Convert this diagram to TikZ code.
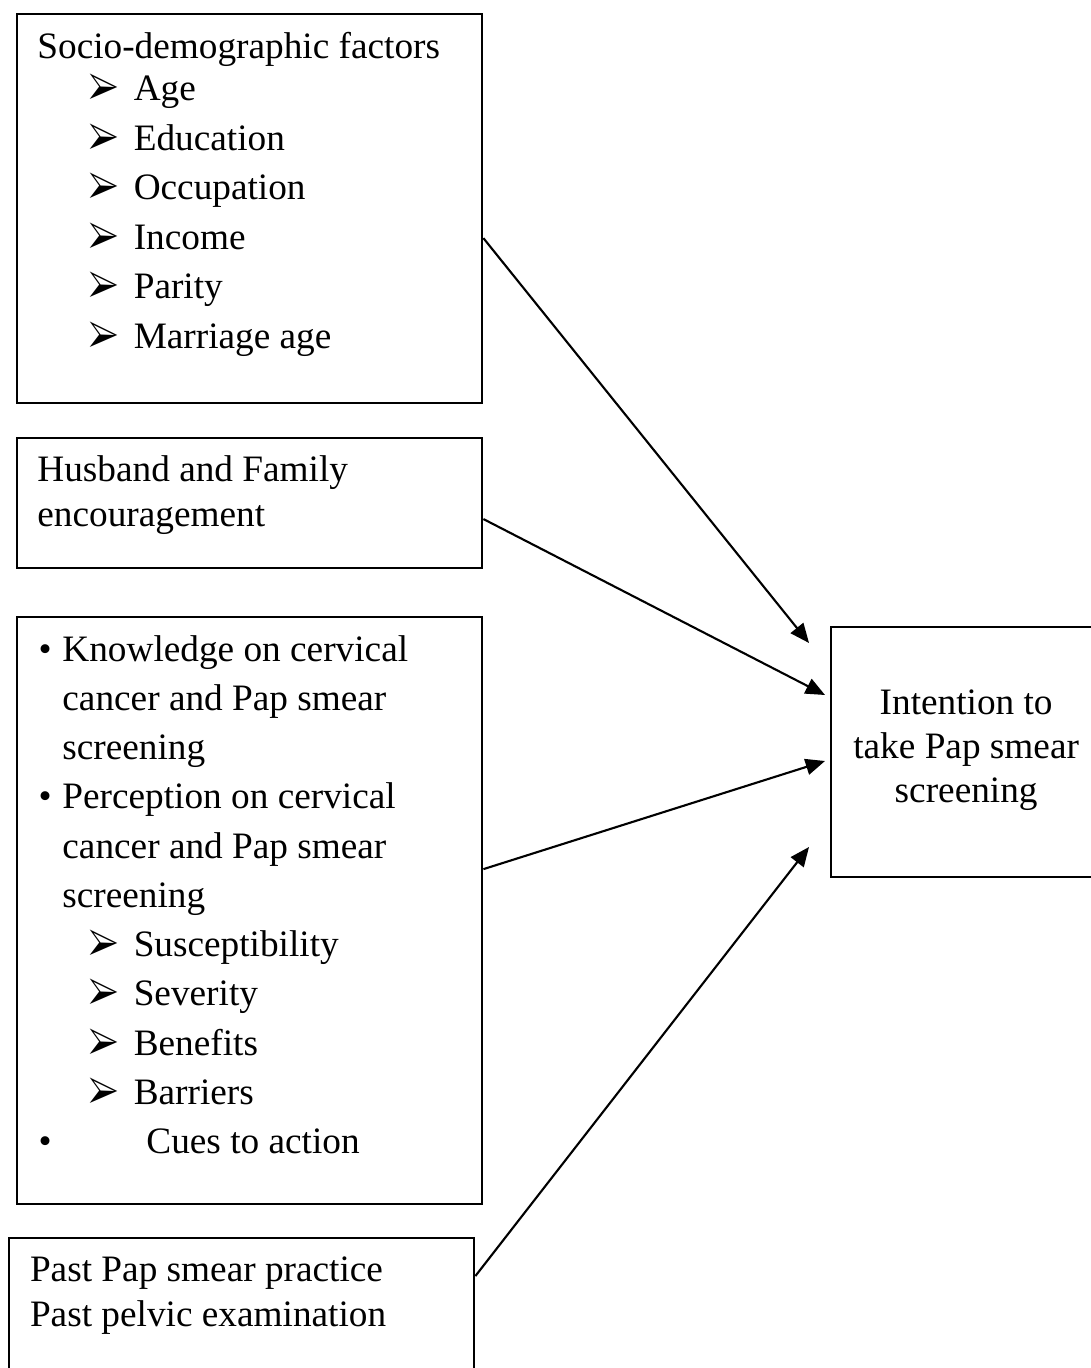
\documentclass[tikz,border=0pt]{standalone}
\usepackage{fontspec}
\setmainfont{Liberation Serif}
\usepackage{pifont}
\usetikzlibrary{positioning,arrows.meta,calc}
\newcommand{\arrbul}{\makebox[4.5mm][l]{\raisebox{-0.3mm}{\scalebox{1}[1.5]{\fontsize{9.2}{10}\selectfont\ding{226}}}}}
\newcommand{\dotbul}[1]{\makebox[#1][l]{\textbullet}}

\begin{document}
\begin{tikzpicture}[
  x=0.01cm, y=-0.01cm,
  box/.style={draw, line width=0.6pt, anchor=north west, inner sep=0pt},
  txt/.style={anchor=base west, align=left, inner sep=0pt,
              font=\fontsize{10.6}{12.6}\selectfont},
  txtw/.style={txt, font=\fontsize{10.6}{14.1}\selectfont},
  arr/.style={-{Triangle[length=5.5pt,width=4.6pt]}, line width=0.6pt},
]
\useasboundingbox (0,0) rectangle (1090,1368);

% Boxes on the left
\node[box, minimum width=4.65cm, minimum height=3.89cm] (socio)  at (16,13)   {};
\node[box, minimum width=4.65cm, minimum height=1.30cm] (family) at (16,437)  {};
\node[box, minimum width=4.65cm, minimum height=5.87cm] (knowl)  at (16,616)  {};
\node[box, minimum width=4.65cm, minimum height=1.35cm] (past)   at (8,1237)  {};

% Outcome box
\node[box, minimum width=2.70cm, minimum height=2.50cm] (intent) at (830,626) {};

% Texts (placed by the baseline of their last line)
\node[txtw] (sociotxt) at ([xshift=2.07mm, yshift=-33.53mm]socio.north west)
  {Socio-demographic factors\\[-2.2pt]
   \hspace*{5.13mm}\arrbul Age\\
   \hspace*{5.13mm}\arrbul Education\\
   \hspace*{5.13mm}\arrbul Occupation\\
   \hspace*{5.13mm}\arrbul Income\\
   \hspace*{5.13mm}\arrbul Parity\\
   \hspace*{5.13mm}\arrbul Marriage age};

\node[txt] (familytxt) at ([xshift=2.07mm, yshift=-8.9mm]family.north west)
  {Husband and Family\\ encouragement};

\node[txtw, font=\fontsize{10.6}{14}\selectfont] (knowltxt)
  at ([xshift=2.2mm, yshift=-53.73mm]knowl.north west)
  {\dotbul{2.37mm}Knowledge on cervical\\
   \hspace*{2.37mm}cancer and Pap smear\\
   \hspace*{2.37mm}screening\\
   \dotbul{2.37mm}Perception on cervical\\
   \hspace*{2.37mm}cancer and Pap smear\\
   \hspace*{2.37mm}screening\\
   \hspace*{5mm}\arrbul Susceptibility\\
   \hspace*{5mm}\arrbul Severity\\
   \hspace*{5mm}\arrbul Benefits\\
   \hspace*{5mm}\arrbul Barriers\\
   \dotbul{10.77mm}Cues to action};

\node[txt] (pasttxt) at ([xshift=2.13mm, yshift=-8.9mm]past.north west)
  {Past Pap smear practice\\ Past pelvic examination};

\node[txt, anchor=base, align=center, font=\fontsize{10.6}{12.4}\selectfont]
  (intenttxt) at ([yshift=-17.6mm]intent.north)
  {Intention to\\ take Pap smear\\ screening};

% Arrow ends
\coordinate (in1) at (809,643);
\coordinate (in2) at (825,695);
\coordinate (in3) at (825,761);
\coordinate (in4) at (809,847);

% Arrows
\draw[arr] ([yshift=-22.5mm]socio.north east)  -- (in1);
\draw[arr] ([yshift=-8.2mm]family.north east)  -- (in2);
\draw[arr] ([yshift=-25.3mm]knowl.north east)  -- (in3);
\draw[arr] ([yshift=-3.9mm]past.north east)    -- (in4);

\end{tikzpicture}
\end{document}
